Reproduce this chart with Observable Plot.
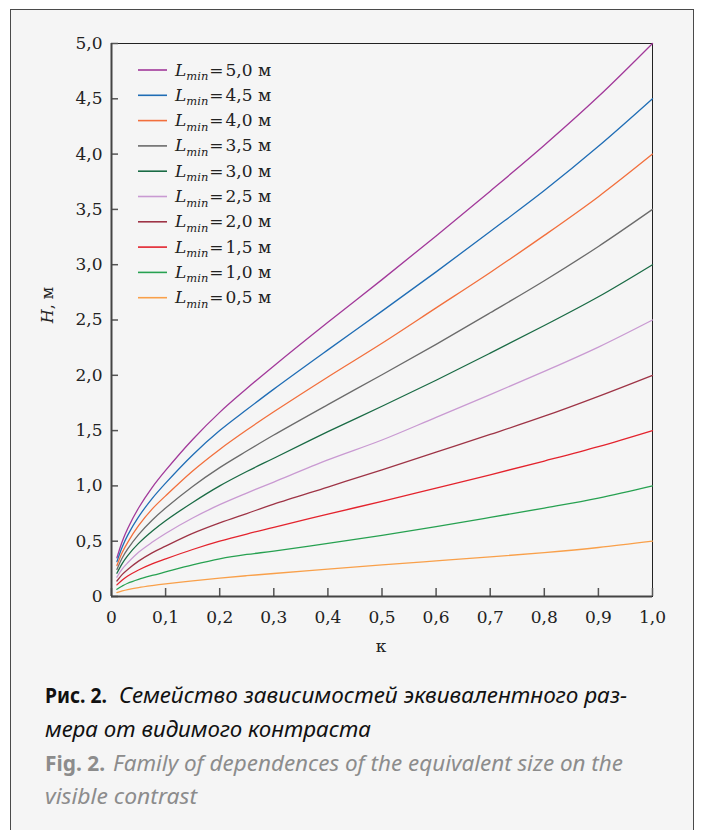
<!DOCTYPE html>
<html><head><meta charset="utf-8">
<script src="https://cdn.jsdelivr.net/npm/d3@7"></script>
<script src="https://cdn.jsdelivr.net/npm/@observablehq/plot@0.6"></script>
<style>
html,body{margin:0;padding:0;background:#fff;}
#wrap{position:relative;width:701px;height:830px;overflow:hidden;background:#fff;}
#box{position:absolute;left:9.5px;top:8.5px;width:684px;height:840px;background:#f5f5f5;border:1.5px solid #4a4a4a;box-sizing:border-box;}
#chart{position:absolute;left:0;top:0;}
#cap{position:absolute;left:0;top:640px;}
</style></head><body>
<div id="wrap"><div id="box"></div><div id="chart"></div><svg id="cap" width="701" height="190"></svg></div>
<script>
// contrast values (x)
const kValues = [0.01, 0.02, 0.03, 0.05, 0.075, 0.1, 0.15, 0.2, 0.25, 0.3, 0.4, 0.5, 0.6, 0.7, 0.8, 0.9, 1.0];
// H values for each Lmin
const H50 = [0.35, 0.50, 0.615, 0.80, 0.985, 1.14, 1.42, 1.665, 1.88, 2.085, 2.48, 2.865, 3.26, 3.665, 4.08, 4.52, 5.00];
const H45 = [0.315, 0.45, 0.555, 0.72, 0.885, 1.025, 1.28, 1.50, 1.69, 1.875, 2.23, 2.58, 2.935, 3.30, 3.67, 4.07, 4.50];
const H40 = [0.28, 0.40, 0.49, 0.64, 0.79, 0.91, 1.135, 1.33, 1.505, 1.67, 1.985, 2.29, 2.61, 2.93, 3.265, 3.615, 4.00];
const H35 = [0.245, 0.35, 0.43, 0.56, 0.69, 0.80, 0.995, 1.165, 1.315, 1.46, 1.735, 2.005, 2.28, 2.565, 2.855, 3.165, 3.50];
const H30 = [0.21, 0.30, 0.37, 0.48, 0.59, 0.685, 0.85, 1.00, 1.13, 1.25, 1.49, 1.72, 1.955, 2.20, 2.45, 2.71, 3.00];
const H25 = [0.175, 0.25, 0.305, 0.40, 0.49, 0.57, 0.71, 0.83, 0.935, 1.035, 1.235, 1.415, 1.62, 1.825, 2.035, 2.255, 2.50];
const H20 = [0.14, 0.20, 0.245, 0.32, 0.395, 0.455, 0.57, 0.665, 0.75, 0.835, 0.99, 1.145, 1.305, 1.465, 1.63, 1.81, 2.00];
const H15 = [0.105, 0.15, 0.185, 0.24, 0.295, 0.34, 0.425, 0.50, 0.565, 0.625, 0.745, 0.86, 0.98, 1.10, 1.225, 1.355, 1.50];
const H10 = [0.065, 0.095, 0.12, 0.155, 0.19, 0.222, 0.285, 0.34, 0.38, 0.41, 0.48, 0.553, 0.632, 0.715, 0.80, 0.89, 1.00];
const H05 = [0.035, 0.05, 0.062, 0.08, 0.098, 0.114, 0.142, 0.167, 0.188, 0.208, 0.248, 0.286, 0.322, 0.358, 0.397, 0.443, 0.50];

const seriesNames = ["5,0", "4,5", "4,0", "3,5", "3,0", "2,5", "2,0", "1,5", "1,0", "0,5"];
const seriesValues = [H50, H45, H40, H35, H30, H25, H20, H15, H10, H05];
const seriesColors = ["#a2399a", "#1f6db5", "#f26f3c", "#6b6b6b", "#1a6b45", "#c99ad2", "#9e3446", "#e3232d", "#27a151", "#f9a04a"];

const xTicks = [0, 0.1, 0.2, 0.3, 0.4, 0.5, 0.6, 0.7, 0.8, 0.9, 1.0];
const xTickLabels = ["0", "0,1", "0,2", "0,3", "0,4", "0,5", "0,6", "0,7", "0,8", "0,9", "1,0"];
const yTicks = [0, 0.5, 1, 1.5, 2, 2.5, 3, 3.5, 4, 4.5, 5];
const yTickLabels = ["0", "0,5", "1,0", "1,5", "2,0", "2,5", "3,0", "3,5", "4,0", "4,5", "5,0"];

const captionRu = ["Рис. 2.", "Семейство зависимостей эквивалентного раз-", "мера от видимого контраста"];
const captionEn = ["Fig. 2.", "Family of dependences of the equivalent size on the", "visible contrast"];

const rows = [];
seriesNames.forEach((name, i) => {
  seriesValues[i].forEach((h, j) => rows.push({L: name, k: kValues[j], H: h}));
});

const serif = "'DejaVu Serif', serif";
const xFmt = d => xTickLabels[xTicks.indexOf(d)];
const yFmt = d => yTickLabels[yTicks.indexOf(d)];

const plot = Plot.plot({
  width: 701, height: 640,
  marginLeft: 111, marginRight: 49, marginTop: 43, marginBottom: 44,
  style: {background: "transparent", fontFamily: serif, fontSize: "17px", color: "#222", overflow: "visible"},
  x: {domain: [0, 1]},
  y: {domain: [0, 5]},
  color: {type: "ordinal", domain: seriesNames, range: seriesColors},
  marks: [
    Plot.frame({stroke: "#222", strokeWidth: 1}),
    Plot.axisX({ticks: xTicks, tickFormat: xFmt, tickSize: 0, tickPadding: 14, label: null, fill: "#222"}),
    Plot.axisX({ticks: xTicks, tickFormat: () => "", tickSize: 8, dy: -8, label: null, stroke: "#555", strokeWidth: 1.5}),
    Plot.axisY({ticks: yTicks, tickFormat: yFmt, tickSize: 0, tickPadding: 9, label: null, fill: "#222"}),
    Plot.axisY({ticks: yTicks, tickFormat: () => "", tickSize: 7, dx: 7, label: null, stroke: "#555", strokeWidth: 1.5}),
    Plot.ruleX([0], {stroke: "#444", strokeWidth: 2}),
    Plot.ruleY([0], {stroke: "#444", strokeWidth: 2}),
    Plot.line(rows, {x: "k", y: "H", z: "L", stroke: "L", strokeWidth: 1.3, curve: "catmull-rom"})
  ]
});
document.getElementById("chart").appendChild(plot);

const svg = d3.select(plot);
// legend
const lg = svg.append("g").attr("font-family", serif).attr("fill", "#222").attr("text-anchor", "start");
seriesNames.forEach((name, i) => {
  const y = 70 + i * 25.3;
  lg.append("line").attr("x1", 138).attr("x2", 167).attr("y1", y).attr("y2", y)
    .attr("stroke", seriesColors[i]).attr("stroke-width", 1.6);
  const t = lg.append("text").attr("x", 175).attr("y", y + 5.5).attr("font-size", 17).attr("text-anchor", "start");
  t.append("tspan").attr("font-style", "italic").text("L");
  t.append("tspan").attr("font-style", "italic").attr("font-size", 11.5).attr("dy", 4.5).text("min");
  t.append("tspan").attr("dy", -4.5).attr("dx", 1).text("=");
  t.append("tspan").attr("dx", 2).text(name + " м");
});
// axis labels
const yl = svg.append("text").attr("transform", "translate(53,305) rotate(-90)")
  .attr("text-anchor", "middle").attr("font-family", serif).attr("font-size", 16).attr("fill", "#222");
yl.append("tspan").attr("font-style", "italic").text("H");
yl.append("tspan").text(", м");
svg.append("text").attr("x", 381).attr("y", 652).attr("text-anchor", "middle")
  .attr("font-family", serif).attr("font-size", 17).attr("fill", "#222").text("к");

// caption
const cap = d3.select("#cap");
const sans = "'Noto Sans', 'Open Sans', sans-serif";
function capLine(y, boldText, boldLen, restText, restX, restLen, color) {
  if (boldText) {
    cap.append("text").attr("x", 45).attr("y", y).attr("font-family", sans).attr("font-size", 22)
      .attr("font-weight", "bold").attr("fill", color).attr("textLength", boldLen)
      .attr("lengthAdjust", "spacingAndGlyphs").text(boldText);
  }
  cap.append("text").attr("x", restX).attr("y", y).attr("font-family", sans).attr("font-size", 22)
    .attr("font-style", "italic").attr("fill", color).attr("textLength", restLen)
    .attr("lengthAdjust", "spacingAndGlyphs").text(restText);
}
capLine(63, captionRu[0], 62, captionRu[1], 119, 508, "#111");
capLine(97, null, 0, captionRu[2], 45, 326, "#111");
capLine(131, captionEn[0], 60, captionEn[1], 113, 510, "#8c8c8c");
capLine(164, null, 0, captionEn[2], 45, 152, "#8c8c8c");
</script>
</body></html>
